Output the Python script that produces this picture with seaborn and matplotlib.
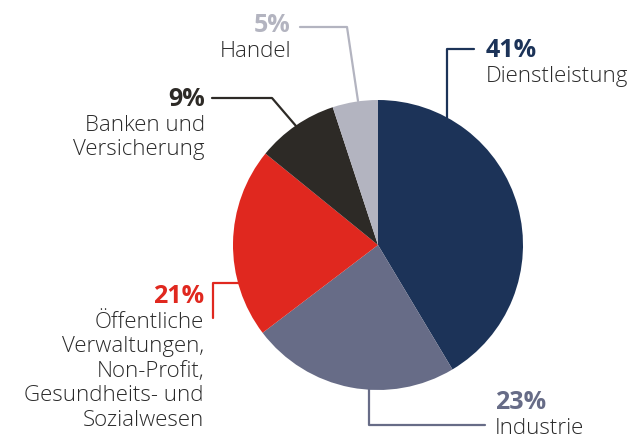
import matplotlib.pyplot as plt
import seaborn as sns

# sector shares (percent), clockwise from 12 o'clock
sectors = ["Dienstleistung", "Industrie", "Öffentliche", "Banken", "Handel"]
shares = [41, 23, 21, 9, 5]
colors = ["#1c3358", "#676c87", "#e0281f", "#2d2a26", "#b3b4c0"]
pct_labels = ["41%", "23%", "21%", "9%", "5%"]
name_labels = [
    ["Dienstleistung"],
    ["Industrie"],
    ["Öffentliche", "Verwaltungen,", "Non-Profit,", "Gesundheits- und", "Sozialwesen"],
    ["Banken und", "Versicherung"],
    ["Handel"],
]

sns.set_theme(style="white")
plt.rcParams["font.family"] = ["Open Sans", "DejaVu Sans"]

fig = plt.figure(figsize=(6.44, 4.38), dpi=100)
ax = fig.add_axes([0, 0, 1, 1])

# pie drawn in pixel-like coordinates (y axis pointing down)
ax.pie(shares, colors=colors, center=(378, 245), radius=145,
       startangle=270, counterclock=True,
       wedgeprops=dict(linewidth=0))
ax.set_xlim(0, 644)
ax.set_ylim(438, 0)
ax.set_aspect("equal")
ax.axis("off")

txt = "#2a2a2a"
lw = 1.6

# leader lines
ax.plot([447, 447, 474], [118, 49, 49], color=colors[0], lw=lw)
ax.plot([369, 369, 485], [388, 425, 425], color=colors[1], lw=lw)
ax.plot([239, 213, 213], [283, 283, 318], color=colors[2], lw=lw)
ax.plot([296, 272, 212], [126, 98, 98], color=colors[3], lw=lw)
ax.plot([358, 347, 300], [101, 27, 27], color=colors[4], lw=lw)

# label blocks: (x, baseline of percent, alignment)
places = [(486, 57, "left"), (495, 409, "left"), (204, 303, "right"),
          (205, 106, "right"), (291, 32, "right")]
step = 24.4
for i, (x, y, ha) in enumerate(places):
    ax.text(x, y, pct_labels[i], color=colors[i], fontsize=18,
            fontweight="bold", ha=ha, va="baseline")
    for j, line in enumerate(name_labels[i]):
        ax.text(x, y + 25 + j * step, line, color=txt, fontsize=16,
                fontweight="light", ha=ha, va="baseline")

fig.savefig("out.png", dpi=100)
